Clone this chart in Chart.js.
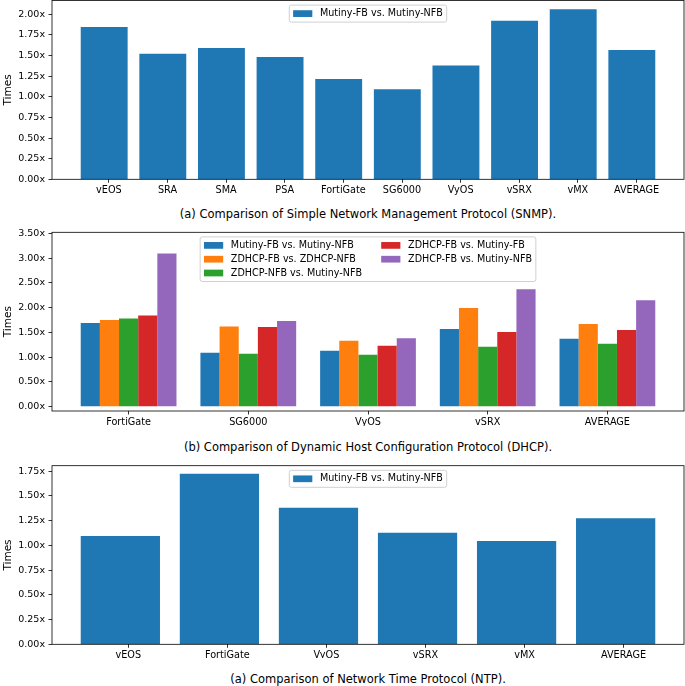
<!DOCTYPE html>
<html>
<head>
<meta charset="utf-8">
<script src="https://cdn.jsdelivr.net/npm/chart.js@4.4.1/dist/chart.umd.min.js"></script>
<style>
  body { margin: 0; background: #fff; width: 685px; height: 686px; position: relative; overflow: hidden; font-family: "DejaVu Sans", sans-serif; }
  .panel { position: absolute; left: 0; width: 685px; height: 200px; }
  .caption { position: absolute; left: 52px; width: 632px; text-align: center; font-size: 11.5px; line-height: 14px; color: #000; white-space: nowrap; }
</style>
</head>
<body>
<div class="panel" style="top:0px"><canvas id="snmpChart"></canvas></div>
<div class="caption" style="top:207px">(a) Comparison of Simple Network Management Protocol (SNMP).</div>
<div class="panel" style="top:226px"><canvas id="dhcpChart"></canvas></div>
<div class="caption" style="top:440px">(b) Comparison of Dynamic Host Configuration Protocol (DHCP).</div>
<div class="panel" style="top:458px"><canvas id="ntpChart"></canvas></div>
<div class="caption" style="top:672px">(a) Comparison of Network Time Protocol (NTP).</div>

<script>
// DADOS
const snmpLabels = ["vEOS", "SRA", "SMA", "PSA", "FortiGate", "SG6000", "VyOS", "vSRX", "vMX", "AVERAGE"];
const snmpValues = [1.846, 1.523, 1.592, 1.483, 1.216, 1.091, 1.378, 1.923, 2.061, 1.568];
const snmpTicks = [0, 0.25, 0.5, 0.75, 1.0, 1.25, 1.5, 1.75, 2.0];

const dhcpLabels = ["FortiGate", "SG6000", "VyOS", "vSRX", "AVERAGE"];
const dhcpMutinyFbNfb = [1.69, 1.09, 1.13, 1.57, 1.37];
const dhcpZdhcpFbNfb = [1.75, 1.62, 1.33, 1.99, 1.67];
const dhcpZdhcpNfbMutinyNfb = [1.78, 1.07, 1.05, 1.21, 1.27];
const dhcpZdhcpFbMutinyFb = [1.84, 1.61, 1.23, 1.51, 1.55];
const dhcpZdhcpFbMutinyNfb = [3.09, 1.73, 1.38, 2.37, 2.15];
const dhcpTicks = [0, 0.5, 1.0, 1.5, 2.0, 2.5, 3.0, 3.5];

const ntpLabels = ["vEOS", "FortiGate", "VyOS", "vSRX", "vMX", "AVERAGE"];
const ntpValues = [1.095, 1.723, 1.378, 1.128, 1.044, 1.274];
const ntpTicks = [0, 0.25, 0.5, 0.75, 1.0, 1.25, 1.5, 1.75];

const FONT = '"DejaVu Sans", sans-serif';

// moldura dos eixos (estilo matplotlib)
const spines = {
  id: "spines",
  afterDatasetsDraw(chart) {
    const { ctx, chartArea: a } = chart;
    ctx.save();
    ctx.strokeStyle = "#000";
    ctx.lineWidth = 0.8;
    ctx.strokeRect(a.left, a.top, a.right - a.left, a.bottom - a.top);
    ctx.restore();
  },
};

// legenda dentro do grafico, em colunas
const boxLegend = {
  id: "boxLegend",
  afterDraw(chart, args, opts) {
    const { ctx, chartArea: a } = chart;
    const f = opts.fontSize;
    const items = chart.data.datasets.map((d) => ({ text: d.label, color: d.backgroundColor }));
    const cols = opts.cols;
    const rows = Math.ceil(items.length / cols);
    ctx.save();
    ctx.font = f + "px " + FONT;
    const colW = [];
    for (let c = 0; c < cols; c++) {
      let w = 0;
      for (let r = 0; r < rows; r++) {
        const it = items[c * rows + r];
        if (it) w = Math.max(w, ctx.measureText(it.text).width);
      }
      colW.push(2.8 * f + w);
    }
    const pad = 0.4 * f;
    const rowH = 13.8;
    const W = 2 * pad + colW.reduce((s, w) => s + w, 0) + 2 * f * (cols - 1);
    const H = 17 + (rows - 1) * rowH;
    const left = (a.left + a.right) / 2 - W / 2;
    const top = a.top + 4.6;

    ctx.fillStyle = "rgba(255,255,255,0.8)";
    ctx.strokeStyle = "#d0d0d0";
    ctx.lineWidth = 1;
    ctx.beginPath();
    ctx.roundRect(left, top, W, H, 2);
    ctx.fill();
    ctx.stroke();

    let x = left + pad;
    for (let c = 0; c < cols; c++) {
      for (let r = 0; r < rows; r++) {
        const it = items[c * rows + r];
        if (!it) continue;
        const cy = top + 8.5 + r * rowH;
        ctx.fillStyle = it.color;
        ctx.fillRect(x, cy - 0.35 * f, 2 * f, 0.7 * f);
        ctx.fillStyle = "#000";
        ctx.textBaseline = "middle";
        ctx.fillText(it.text, x + 2.8 * f, cy);
      }
      x += colW[c] + 2 * f;
    }
    ctx.restore();
  },
};

function criarPainel(id, cfg) {
  const ctx = document.getElementById(id).getContext("2d");
  return new Chart(ctx, {
    type: "bar",
    data: { datasets: cfg.datasets },
    options: {
      responsive: true,
      maintainAspectRatio: false,
      animation: false,
      layout: { padding: { top: cfg.top, left: 0, right: 1, bottom: 0 } },
      plugins: {
        legend: { display: false },
        tooltip: { enabled: false },
        boxLegend: { fontSize: 9.6, cols: cfg.cols },
      },
      scales: {
        x: {
          type: "linear",
          offset: false,
          min: cfg.xmin,
          max: cfg.xmax,
          afterBuildTicks: (s) => {
            s.ticks = cfg.labels.map((l, i) => ({ value: i + cfg.tickShift }));
          },
          afterFit: (s) => {
            s.height = cfg.xh;
            s.paddingLeft = 0;
            s.paddingRight = 0;
          },
          border: { display: false },
          grid: { offset: false, drawOnChartArea: false, drawTicks: true, tickLength: 3.5, color: "#000", lineWidth: 0.8 },
          ticks: {
            color: "#000",
            font: { family: FONT, size: 9.7 },
            padding: 2,
            maxRotation: 0,
            autoSkip: false,
            callback: (v) => cfg.labels[Math.round(v - cfg.tickShift)],
          },
        },
        y: {
          min: cfg.ymin,
          max: cfg.ymax,
          afterBuildTicks: (s) => {
            s.ticks = cfg.yticks.map((v) => ({ value: v }));
          },
          afterFit: (s) => {
            s.width = 52;
            s.paddingTop = 0;
            s.paddingBottom = 0;
          },
          border: { display: false },
          grid: { drawOnChartArea: false, drawTicks: true, tickLength: 3.5, color: "#000", lineWidth: 0.8 },
          ticks: {
            color: "#000",
            font: { family: FONT, size: 9.5 },
            padding: 3.5,
            autoSkip: false,
            callback: (v) => v.toFixed(2) + "x",
          },
          title: {
            display: true,
            text: "Times",
            color: "#000",
            font: { family: FONT, size: 10.5 },
            padding: { top: 2, bottom: 0 },
          },
        },
      },
    },
    plugins: [spines, boxLegend],
  });
}

function serie(label, values, color) {
  return {
    label: label,
    data: values.map((v, i) => ({ x: i, y: v })),
    backgroundColor: color,
    borderWidth: 0,
    categoryPercentage: 0.8,
    barPercentage: 1.0,
  };
}

document.addEventListener("DOMContentLoaded", () => {
  // SNMP
  criarPainel("snmpChart", {
    labels: snmpLabels,
    datasets: [serie("Mutiny-FB vs. Mutiny-NFB", snmpValues, "#1f77b4")],
    xmin: -0.89, xmax: snmpLabels.length - 1 + 0.89, tickShift: 0.08,
    ymin: 0, ymax: 2.167, yticks: snmpTicks,
    top: 0.5, xh: 20.7, cols: 1,
  });

  // DHCP
  criarPainel("dhcpChart", {
    labels: dhcpLabels,
    datasets: [
      serie("Mutiny-FB vs. Mutiny-NFB", dhcpMutinyFbNfb, "#1f77b4"),
      serie("ZDHCP-FB vs. ZDHCP-NFB", dhcpZdhcpFbNfb, "#ff7f0e"),
      serie("ZDHCP-NFB vs. Mutiny-NFB", dhcpZdhcpNfbMutinyNfb, "#2ca02c"),
      serie("ZDHCP-FB vs. Mutiny-FB", dhcpZdhcpFbMutinyFb, "#d62728"),
      serie("ZDHCP-FB vs. Mutiny-NFB", dhcpZdhcpFbMutinyNfb, "#9467bd"),
    ],
    xmin: -0.64, xmax: dhcpLabels.length - 1 + 0.64, tickShift: 0,
    ymin: -0.087, ymax: 3.52, yticks: dhcpTicks,
    top: 6.3, xh: 15, cols: 2,
  });

  // NTP
  criarPainel("ntpChart", {
    labels: ntpLabels,
    datasets: [serie("Mutiny-FB vs. Mutiny-NFB", ntpValues, "#1f77b4")],
    xmin: -0.69, xmax: ntpLabels.length - 1 + 0.69, tickShift: 0.08,
    ymin: 0, ymax: 1.804, yticks: ntpTicks,
    top: 7.7, xh: 13.7, cols: 1,
  });
});
</script>
</body>
</html>
